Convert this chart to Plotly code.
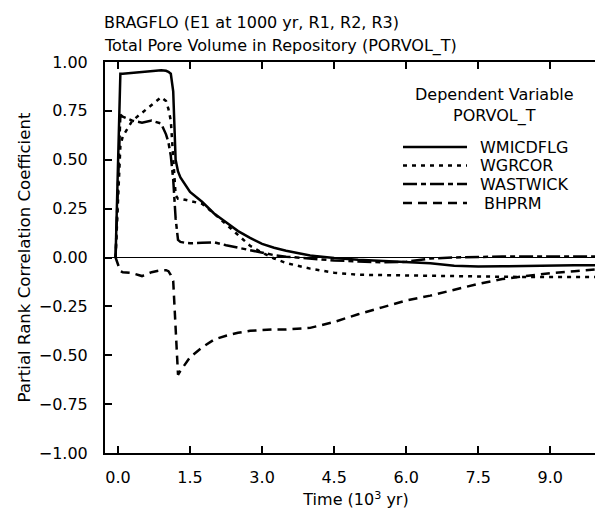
import plotly.graph_objects as go

# ---- data ----
time_kyr = [-0.05, 0.05, 0.1, 0.3, 0.5, 0.7, 0.9, 1.0, 1.05, 1.1, 1.15, 1.2, 1.25, 1.3,
            1.4, 1.5, 1.75, 2.0, 2.25, 2.5, 2.75, 3.0, 3.25, 3.5, 4.0, 4.5, 5.0, 5.5,
            6.0, 6.5, 7.0, 7.5, 8.0, 8.5, 9.0, 9.5, 10.0]

wmicdflg = [0.0, 0.94, 0.94, 0.945, 0.95, 0.955, 0.958, 0.955, 0.95, 0.94, 0.85, 0.50, 0.44, 0.41,
            0.37, 0.335, 0.285, 0.225, 0.18, 0.135, 0.10, 0.07, 0.05, 0.035, 0.01, -0.003, -0.012, -0.018,
            -0.022, -0.03, -0.042, -0.046, -0.045, -0.043, -0.04, -0.04, -0.04]

wgrcor = [0.0, 0.57, 0.62, 0.70, 0.74, 0.78, 0.82, 0.80, 0.76, 0.70, 0.50, 0.32, 0.30, 0.30,
          0.295, 0.29, 0.275, 0.225, 0.17, 0.11, 0.06, 0.025, -0.005, -0.028, -0.057, -0.078, -0.088, -0.09,
          -0.092, -0.095, -0.097, -0.098, -0.10, -0.10, -0.10, -0.10, -0.10]

wastwick = [0.0, 0.73, 0.72, 0.70, 0.69, 0.70, 0.685, 0.63, 0.59, 0.52, 0.40, 0.20, 0.09, 0.08,
            0.075, 0.073, 0.075, 0.078, 0.063, 0.05, 0.035, 0.022, 0.012, 0.004, -0.005, -0.015, -0.02, -0.025,
            -0.022, -0.005, 0.0, 0.003, 0.005, 0.005, 0.005, 0.005, 0.005]

bhprm = [0.0, -0.07, -0.075, -0.08, -0.095, -0.075, -0.065, -0.065, -0.07, -0.09, -0.12, -0.35, -0.60, -0.58,
         -0.545, -0.51, -0.46, -0.42, -0.40, -0.385, -0.375, -0.37, -0.368, -0.368, -0.36, -0.33, -0.29, -0.255,
         -0.22, -0.195, -0.165, -0.135, -0.11, -0.095, -0.08, -0.07, -0.06]

series_names = ["WMICDFLG", "WGRCOR", "WASTWICK", "BHPRM"]
series_values = [wmicdflg, wgrcor, wastwick, bhprm]
series_dash = ["solid", "4px,5px", "14px,4px,5px,4px", "9px,6px"]

x_tick_vals = [0.0, 1.5, 3.0, 4.5, 6.0, 7.5, 9.0]
y_tick_vals = [-1.0, -0.75, -0.5, -0.25, 0.0, 0.25, 0.5, 0.75, 1.0]

FONT = "DejaVu Sans, Liberation Sans, Arial, sans-serif"
FS = 16
W, H = 603, 508
ML, MR, MT, MB = 97, 4, 54, 63
PW, PH = W - ML - MR, H - MT - MB

def px_x(px):
    return (px - ML) / PW

def px_y(py):
    return (H - MB - py) / PH

fig = go.Figure()
for name, vals, dash in zip(series_names, series_values, series_dash):
    fig.add_trace(go.Scatter(x=time_kyr, y=vals, mode="lines", name=name,
                             line=dict(color="black", width=2.5, dash=dash),
                             showlegend=False))

# legend drawn as header + samples
annotations = [
    dict(text="Dependent Variable<br>PORVOL_T", x=px_x(486), y=px_y(97), xref="paper", yref="paper",
         showarrow=False, xanchor="center", yanchor="middle", align="center", font=dict(size=FS)),
    dict(text="BRAGFLO (E1 at 1000 yr, R1, R2, R3)", x=px_x(94), y=px_y(15), xref="paper", yref="paper",
         showarrow=False, xanchor="left", yanchor="middle", font=dict(size=FS)),
    dict(text="Total Pore Volume in Repository (PORVOL_T)", x=px_x(94), y=px_y(38.5), xref="paper", yref="paper",
         showarrow=False, xanchor="left", yanchor="middle", font=dict(size=FS)),
]
shapes = []
row_y = [139, 157.5, 176, 195]
text_x = [470, 470, 470, 474]
for name, dash, ry, tx in zip(series_names, series_dash, row_y, text_x):
    shapes.append(dict(type="line", xref="paper", yref="paper",
                       x0=px_x(395), x1=px_x(459), y0=px_y(ry), y1=px_y(ry),
                       line=dict(color="black", width=2.5, dash=dash)))
    annotations.append(dict(text=name, x=px_x(tx), y=px_y(ry), xref="paper", yref="paper",
                            showarrow=False, xanchor="left", yanchor="middle", font=dict(size=FS)))

fig.update_layout(
    width=W, height=H,
    margin=dict(l=ML, r=MR, t=MT, b=MB, autoexpand=False),
    paper_bgcolor="white", plot_bgcolor="white",
    font=dict(family=FONT, size=FS, color="black"),
    annotations=annotations, shapes=shapes,
    showlegend=False,
)
fig.update_xaxes(
    range=[-0.27, 10.18], tickvals=x_tick_vals, tickformat=".1f",
    ticks="inside", ticklen=7, tickwidth=1.5, tickcolor="black",
    showline=True, linewidth=2, linecolor="black", mirror="ticks",
    showgrid=False, zeroline=False, ticklabelstandoff=9,
    title=dict(text="Time (10<sup>3</sup> yr)", standoff=8, font=dict(size=FS)),
    automargin=False,
)
fig.update_yaxes(
    range=[-1.0, 1.0], tickvals=y_tick_vals, tickformat=".2f",
    ticks="inside", ticklen=7, tickwidth=1.5, tickcolor="black",
    showline=True, linewidth=2, linecolor="black", mirror="ticks",
    showgrid=False, zeroline=True, zerolinecolor="black", zerolinewidth=1,
    ticklabelstandoff=12,
    title=dict(text="Partial Rank Correlation Coefficient", standoff=4, font=dict(size=16.6)),
    automargin=False,
)

fig.write_html("out.html")
